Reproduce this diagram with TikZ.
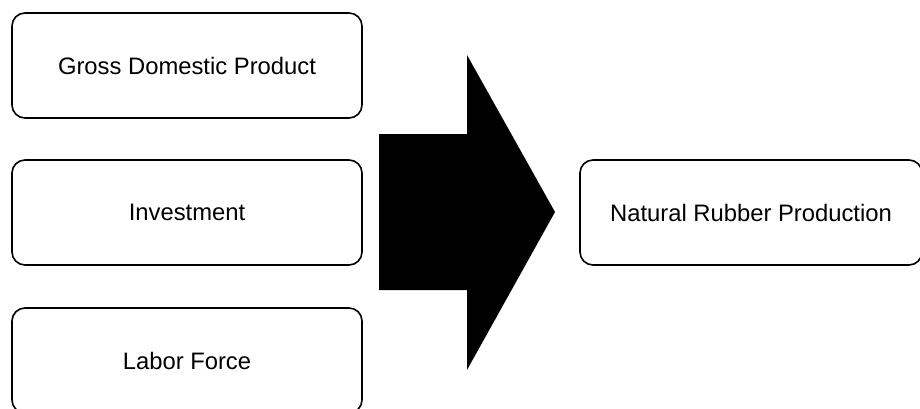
\documentclass[tikz,border=0pt]{standalone}
\usepackage{fontspec}
\setmainfont{Liberation Sans}
\begin{document}
\begin{tikzpicture}[x=1pt,y=-1pt,
        factor/.style={draw,line width=1.6pt,rounded corners=13pt,inner sep=0pt,
            minimum width=350pt,minimum height=105pt,font=\fontsize{23.8}{28}\selectfont}]
    \useasboundingbox (0,0) rectangle (920,408);
    \clip (0,0) rectangle (920,408);
    \begin{scope}
        \draw node[factor] (node1) at (187,65.5) {Gross Domestic Product};
        \draw node[factor] (node2) at (187,212.5) {Investment};
        \draw node[factor] (node3) at (187,360.5) {Labor Force};
    \end{scope}

    \fill (379,134) -- (467,134) -- (467,55) -- (555,212) -- (467,370) -- (467,290) -- (379,290) -- cycle;

    \draw node[factor,minimum width=342pt] (node4) at (751,212.5) {Natural Rubber Production};
\end{tikzpicture}
\end{document}
